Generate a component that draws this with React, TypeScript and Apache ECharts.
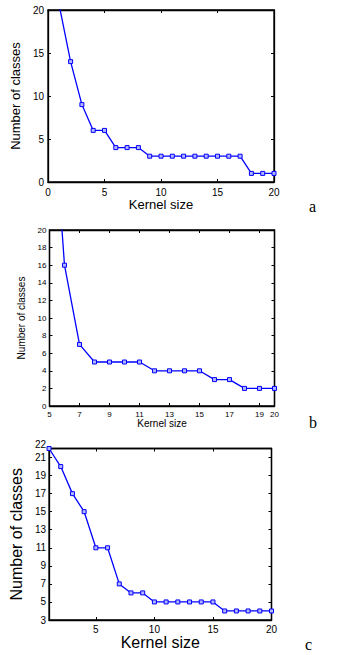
import React, { useEffect, useRef } from "react";
import * as echarts from "echarts";

// Panel a
const kernelA = [1, 2, 3, 4, 5, 6, 7, 8, 9, 10, 11, 12, 13, 14, 15, 16, 17, 18, 19, 20];
const classesA = [20.5, 14, 9, 6, 6, 4, 4, 4, 3, 3, 3, 3, 3, 3, 3, 3, 3, 1, 1, 1];
// Panel b
const kernelB = [5, 6, 7, 8, 9, 10, 11, 12, 13, 14, 15, 16, 17, 18, 19, 20];
const classesB = [40, 16, 7, 5, 5, 5, 5, 4, 4, 4, 4, 3, 3, 2, 2, 2];
const ticksBX = [5, 7, 9, 11, 13, 15, 17, 19, 20];
// Panel c
const kernelC = [1, 2, 3, 4, 5, 6, 7, 8, 9, 10, 11, 12, 13, 14, 15, 16, 17, 18, 19, 20];
const classesC = [22, 20, 17, 15, 11, 11, 7, 6, 6, 5, 5, 5, 5, 5, 5, 4, 4, 4, 4, 4];
const ticksCX = [5, 10, 15, 20];
const ticksCY = [3, 5, 7, 9, 11, 13, 15, 17, 19, 21];
const topTickCY = [22];

const panelLetters = ["a", "b", "c"];
const xTitle = "Kernel size";
const yTitle = "Number of classes";

const FONT = "'Liberation Sans', Arial, sans-serif";

export default function App() {
  const ref = useRef<HTMLDivElement>(null);
  useEffect(() => {
    if (!ref.current) return;
    const chart = echarts.init(ref.current, null, { renderer: "svg" });

    const border = { show: true, borderColor: "#000", borderWidth: 1.3, backgroundColor: "transparent" };
    const grids = [
      { left: 48, top: 10, width: 226, height: 172, ...border },
      { left: 49.5, top: 230, width: 225, height: 176, ...border },
      { left: 44.5, top: 448.5, width: 227, height: 171.5, ...border },
    ];

    const lineAxis = () => ({ show: true, onZero: false, lineStyle: { color: "#000", width: 1.3 } });
    const tick = (extra: any = {}) => ({ show: true, inside: true, length: 3, lineStyle: { color: "#000", width: 1 }, ...extra });

    const mkX = (gi: number, min: number, max: number, fs: number, titleFs: number, gap: number, margin: number, opts: any = {}) => {
      const base: any = {
        type: "value", gridIndex: gi, min, max, position: "bottom",
        axisLine: lineAxis(), splitLine: { show: false },
        name: xTitle, nameLocation: "middle", nameGap: gap,
        nameTextStyle: { fontFamily: FONT, fontSize: titleFs, color: "#000" },
        axisLabel: { fontFamily: FONT, fontSize: fs, color: "#000", margin, hideOverlap: false, showMinLabel: true, showMaxLabel: true, ...(opts.label || {}) },
        axisTick: tick(opts.tick || {}),
      };
      if (opts.interval) base.interval = opts.interval;
      const top: any = {
        type: "value", gridIndex: gi, min, max, position: "top", offset: 0,
        axisLine: lineAxis(), splitLine: { show: false },
        axisLabel: { show: false },
        axisTick: tick(opts.tick || {}),
      };
      if (opts.interval) top.interval = opts.interval;
      return [base, top];
    };
    const mkY = (gi: number, min: number, max: number, fs: number, titleFs: number, gap: number, margin: number, opts: any = {}) => {
      const base: any = {
        type: "value", gridIndex: gi, min, max, position: "left",
        axisLine: lineAxis(), splitLine: { show: false },
        name: yTitle, nameLocation: "middle", nameGap: gap, nameRotate: 90,
        nameTextStyle: { fontFamily: FONT, fontSize: titleFs, color: "#000" },
        axisLabel: { fontFamily: FONT, fontSize: fs, color: "#000", margin, hideOverlap: false, showMinLabel: true, showMaxLabel: true, ...(opts.label || {}) },
        axisTick: tick(opts.tick || {}),
      };
      if (opts.interval) base.interval = opts.interval;
      const right: any = {
        type: "value", gridIndex: gi, min, max, position: "right",
        axisLine: lineAxis(), splitLine: { show: false },
        axisLabel: { show: false },
        axisTick: tick(opts.tick || {}),
      };
      if (opts.interval) right.interval = opts.interval;
      return [base, right];
    };

    const xAxis = [
      ...mkX(0, 0, 20, 10, 13, 11, 5, { interval: 5 }),
      ...mkX(1, 5, 20, 8, 10, 12, 4, { label: { customValues: ticksBX }, tick: { customValues: ticksBX } }),
      ...mkX(2, 1, 20, 10, 16, 10, 4, { label: { customValues: ticksCX }, tick: { customValues: ticksCX } }),
    ];
    const allTicksCY = [...ticksCY, ...topTickCY];
    const yAxis = [
      ...mkY(0, 0, 20, 10, 13, 19, 4, { interval: 5 }),
      ...mkY(1, 0, 20, 8, 10, 16, 3, { interval: 2 }),
      ...mkY(2, 3, 22, 10, 16, 16, 3, { label: { customValues: ticksCY }, tick: { customValues: allTicksCY } }),
      {
        type: "value", gridIndex: 2, min: 3, max: 22, position: "left", offset: 0,
        axisLine: { show: false, onZero: false }, splitLine: { show: false }, axisTick: { show: false },
        axisLabel: {
          fontFamily: FONT, fontSize: 10, color: "#000", margin: 3, customValues: topTickCY, showMaxLabel: true,
          verticalAlign: "bottom", lineHeight: 8,
        },
      },
    ];

    const mkSeries = (gi: number, xs: number[], ys: number[]) => ({
      type: "line", xAxisIndex: gi * 2, yAxisIndex: gi * 2, clip: true,
      data: xs.map((x, i) => [x, ys[i]]),
      symbol: "rect", symbolSize: 4,
      lineStyle: { color: "#0000ff", width: 1.3 },
      itemStyle: { color: "#b4b4ff", borderColor: "#0000ff", borderWidth: 1 },
    });

    chart.setOption({
      animation: false,
      backgroundColor: "#fff",
      grid: grids,
      xAxis, yAxis,
      series: [
        mkSeries(0, kernelA, classesA),
        mkSeries(1, kernelB, classesB),
        mkSeries(2, kernelC, classesC),
      ],
      graphic: panelLetters.map((t, i) => ({
        type: "text", left: 309 - (i === 2 ? 4 : 0), top: [198, 414, 636][i],
        style: { text: t, font: "16px 'Liberation Serif', 'Times New Roman', serif", fill: "#000" },
      })),
    });
    return () => chart.dispose();
  }, []);
  return <div ref={ref} style={{ position: "fixed", left: 0, top: 0, width: 347, height: 655 }} />;
}
